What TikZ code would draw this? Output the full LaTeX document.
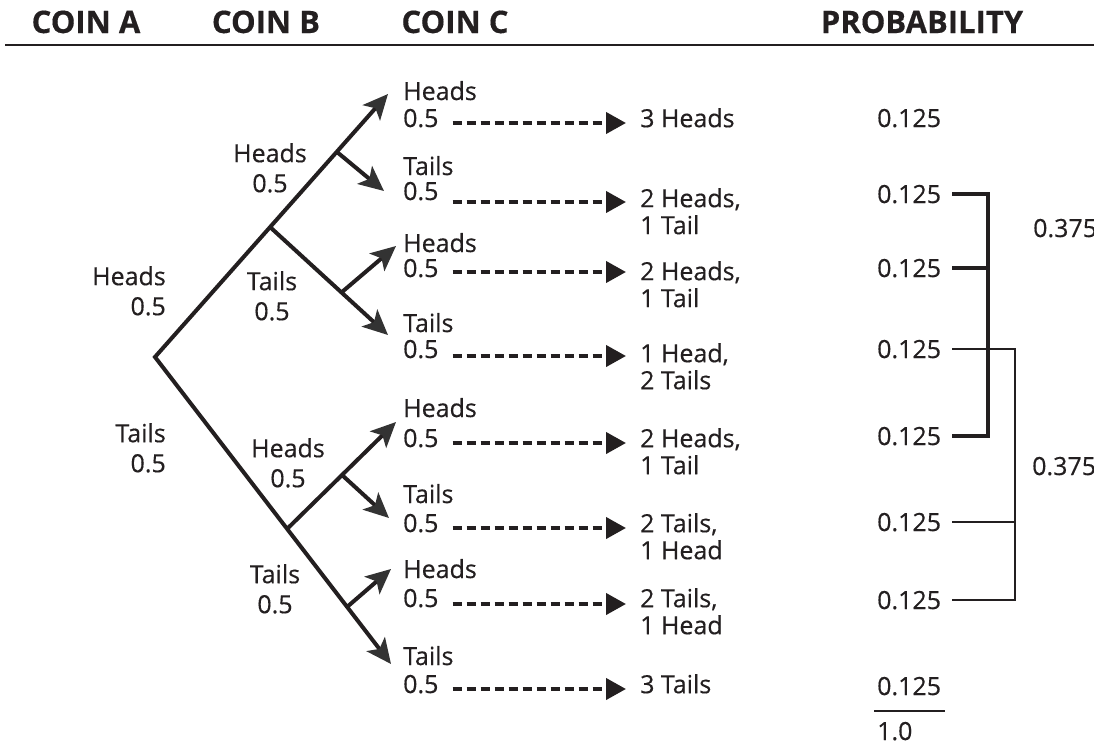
\documentclass[tikz,border=0pt]{standalone}
\usepackage{fontspec}
\setmainfont{Open Sans}[FakeBold=0.4]
\usetikzlibrary{arrows.meta}
\definecolor{ink}{HTML}{231F20}
\definecolor{tipgray}{HTML}{333333}
\tikzset{
	lbl/.style={inner sep=0pt, text=ink, font=\fontsize{25}{30}\selectfont},
	treelbl/.style={lbl, align=center},
	outc/.style={lbl, align=left, font=\fontsize{25}{27}\selectfont, anchor=north west},
	head/.style={inner sep=0pt, text=ink, font=\fontsize{31}{34}\selectfont\bfseries, anchor=base},
	branch/.style={draw=ink, line width=4pt, line join=miter},
	btip/.style={-{Stealth[length=25pt,width=23pt,inset=6pt,color=tipgray]}},
	dasharrow/.style={draw=ink, line width=4pt, dash pattern=on 9pt off 5pt, -{Triangle[length=20pt,width=21pt]}},
	thickbr/.style={draw=ink, line width=4pt, line join=miter},
	thinbr/.style={draw=ink, line width=1.5pt, line join=miter}
}
\begin{document}
\begin{tikzpicture}[x=1pt,y=-1pt]
	\useasboundingbox (0,0) rectangle (1094,744);
	% column heads
	\node[head] (hA) at (86,33) {COIN A};
	\node[head] (hB) at (266,33) {COIN B};
	\node[head] (hC) at (455,33) {COIN C};
	\node[head] (hP) at (922,33) {PROBABILITY};
	\coordinate (rule0) at (5,45);
	\coordinate (rule1) at (1094,45);
	\draw[draw=ink, line width=2.5pt] (rule0) -- (rule1);

	% tree points
	\coordinate (root) at (155,357);
	\coordinate (jH) at (270,227);
	\coordinate (jHH) at (337,152);
	\coordinate (jHT) at (342,292);
	\coordinate (jT) at (287,529);
	\coordinate (jTH) at (342,475);
	\coordinate (jTT) at (347,607);
	\coordinate (tHHH) at (388,94);
	\coordinate (tHHT) at (384,191);
	\coordinate (tHTH) at (396,246);
	\coordinate (tHTT) at (388,335);
	\coordinate (tTHH) at (396,422);
	\coordinate (tTHT) at (389,518);
	\coordinate (tTTH) at (391,569);
	\coordinate (tTTT) at (391,664);

	\draw[branch, {Stealth[length=25pt,width=23pt,inset=6pt,color=tipgray]}-{Stealth[length=25pt,width=23pt,inset=6pt,color=tipgray]}] (tHHH) -- (root) -- (tTTT);
	\draw[branch, btip] (jH) -- (tHTT);
	\draw[branch, btip] (jHH) -- (tHHT);
	\draw[branch, btip] (jHT) -- (tHTH);
	\draw[branch, btip] (jT) -- (tTHH);
	\draw[branch, btip] (jTH) -- (tTHT);
	\draw[branch, btip] (jTT) -- (tTTH);

	% coin A and coin B labels
	\node[treelbl, align=right, anchor=north east] (aH) at (166,266) {Heads\\0.5};
	\node[treelbl, align=right, anchor=north east] (aT) at (166,423) {Tails\\0.5};
	\node[treelbl, anchor=north] (bHH) at (270,143) {Heads\\0.5};
	\node[treelbl, anchor=north] (bHT) at (272,271) {Tails\\0.5};
	\node[treelbl, anchor=north] (bTH) at (288,438) {Heads\\0.5};
	\node[treelbl, anchor=north] (bTT) at (275,564) {Tails\\0.5};

	% coin C labels
	\node[lbl, anchor=base west] (c1w) at (403,100) {Heads};
	\node[lbl, anchor=base west] (c1) at (403,127) {0.5};
	\node[lbl, anchor=base west] (c2w) at (403,175) {Tails};
	\node[lbl, anchor=base west] (c2) at (403,200) {0.5};
	\node[lbl, anchor=base west] (c3w) at (403,252) {Heads};
	\node[lbl, anchor=base west] (c3) at (403,277) {0.5};
	\node[lbl, anchor=base west] (c4w) at (403,332) {Tails};
	\node[lbl, anchor=base west] (c4) at (403,358) {0.5};
	\node[lbl, anchor=base west] (c5w) at (403,417) {Heads};
	\node[lbl, anchor=base west] (c5) at (403,447) {0.5};
	\node[lbl, anchor=base west] (c6w) at (403,503) {Tails};
	\node[lbl, anchor=base west] (c6) at (403,532) {0.5};
	\node[lbl, anchor=base west] (c7w) at (403,578) {Heads};
	\node[lbl, anchor=base west] (c7) at (403,607) {0.5};
	\node[lbl, anchor=base west] (c8w) at (403,665) {Tails};
	\node[lbl, anchor=base west] (c8) at (403,693) {0.5};

	% outcomes
	\node[outc] (o1) at (640,108) {3 Heads};
	\node[outc] (o2) at (640,188) {2 Heads,\\1 Tail};
	\node[outc] (o3) at (640,261) {2 Heads,\\1 Tail};
	\node[outc] (o4) at (640,343) {1 Head,\\2 Tails};
	\node[outc] (o5) at (640,428) {2 Heads,\\1 Tail};
	\node[outc] (o6) at (640,513) {2 Tails,\\1 Head};
	\node[outc] (o7) at (640,588) {2 Tails,\\1 Head};
	\node[outc] (o8) at (640,674) {3 Tails};

	\draw[dasharrow] ([xshift=14pt,yshift=4pt]c1.base east) -- ([xshift=-14pt,yshift=4pt]c1.base east -| o1.west);
	\draw[dasharrow] ([xshift=14pt,yshift=-2pt]c2.base east) -- ([xshift=-14pt,yshift=-2pt]c2.base east -| o2.west);
	\draw[dasharrow] ([xshift=14pt,yshift=5pt]c3.base east) -- ([xshift=-14pt,yshift=5pt]c3.base east -| o3.west);
	\draw[dasharrow] ([xshift=14pt,yshift=2pt]c4.base east) -- ([xshift=-14pt,yshift=2pt]c4.base east -| o4.west);
	\draw[dasharrow] ([xshift=14pt,yshift=4pt]c5.base east) -- ([xshift=-14pt,yshift=4pt]c5.base east -| o5.west);
	\draw[dasharrow] ([xshift=14pt,yshift=4pt]c6.base east) -- ([xshift=-14pt,yshift=4pt]c6.base east -| o6.west);
	\draw[dasharrow] ([xshift=14pt,yshift=3pt]c7.base east) -- ([xshift=-14pt,yshift=3pt]c7.base east -| o7.west);
	\draw[dasharrow] ([xshift=14pt,yshift=4pt]c8.base east) -- ([xshift=-14pt,yshift=4pt]c8.base east -| o8.west);

	% probabilities
	\node[lbl, anchor=base west] (p1) at (877,127) {0.125};
	\node[lbl, anchor=base west] (p2) at (877,203) {0.125};
	\node[lbl, anchor=base west] (p3) at (877,277) {0.125};
	\node[lbl, anchor=base west] (p4) at (877,358) {0.125};
	\node[lbl, anchor=base west] (p5) at (877,445) {0.125};
	\node[lbl, anchor=base west] (p6) at (877,531) {0.125};
	\node[lbl, anchor=base west] (p7) at (877,609) {0.125};
	\node[lbl, anchor=base west] (p8) at (877,695) {0.125};
	\node[lbl, anchor=base west] (sum) at (877,740) {1.0};
	\draw[draw=ink, line width=2pt] ([xshift=-3pt,yshift=-16pt]p8.base west) -- ([xshift=4pt,yshift=-16pt]p8.base east);

	\draw[thickbr] ([xshift=11pt]p2.east) -- ++(36,0) |- ([xshift=11pt]p5.east);
	\draw[thickbr] ([xshift=11pt]p3.east) -- ++(36,0);
	\draw[thinbr] ([xshift=11pt]p4.east) -- ++(63,0) |- ([xshift=11pt]p7.east);
	\draw[thinbr] ([xshift=11pt]p6.east) -- ++(63,0);
	\node[lbl, anchor=base west] (s1) at (1033,237) {0.375};
	\node[lbl, anchor=base west] (s2) at (1032,475) {0.375};
\end{tikzpicture}
\end{document}
